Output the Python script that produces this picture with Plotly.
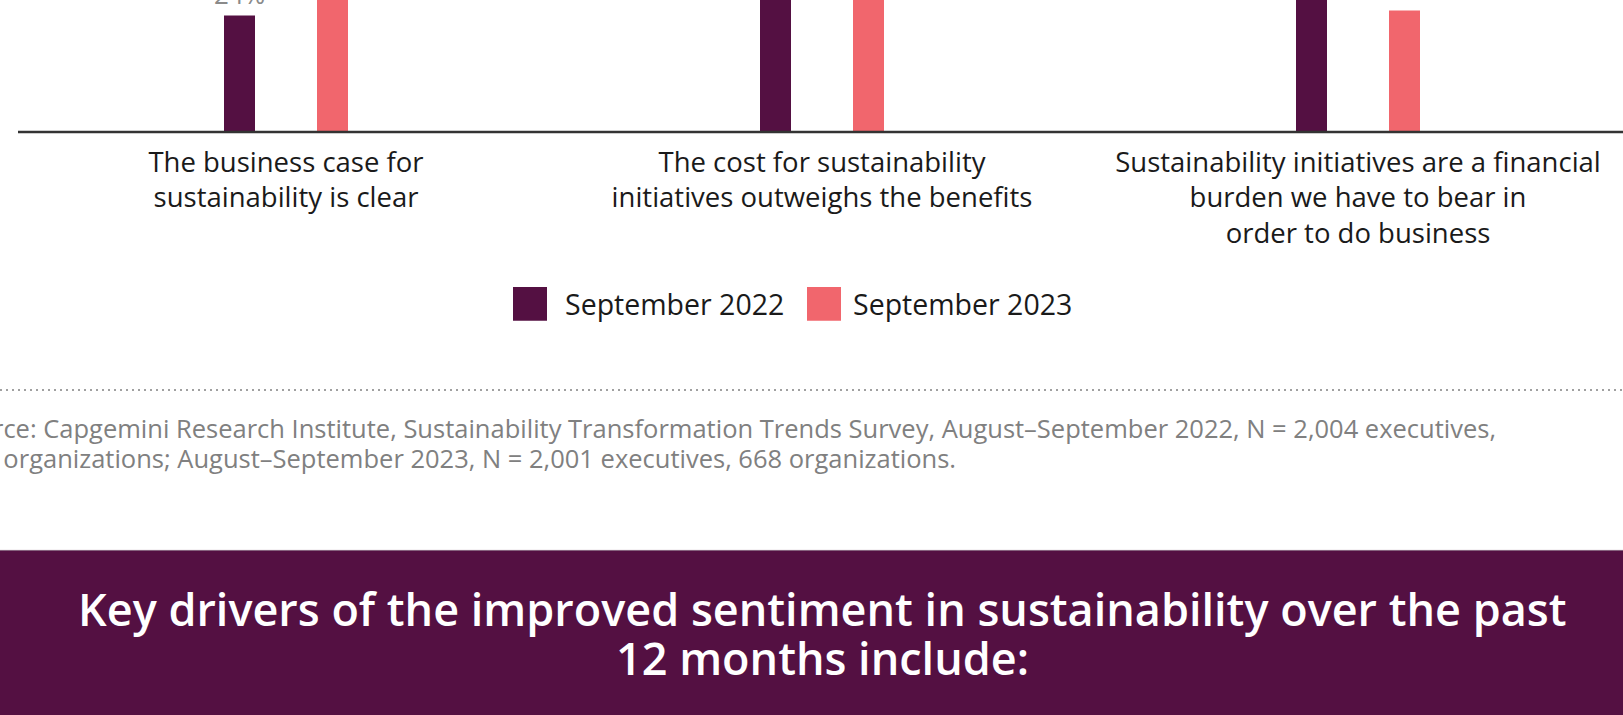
import plotly.graph_objects as go

# ---- data ----
categories = [
    "The business case for<br>sustainability is clear",
    "The cost for sustainability<br>initiatives outweighs the benefits",
    "Sustainability initiatives are a financial<br>burden we have to bear in<br>order to do business",
]
series_names = ["September 2022", "September 2023"]
sep_2022 = [24, 57, 53]
sep_2023 = [38, 41, 25]
colors = ["#541042", "#F1666D"]

source_lines = [
    "Source: Capgemini Research Institute, Sustainability Transformation Trends Survey, "
    "August–September 2022, N = 2,004 executives,",
    "668 organizations; August–September 2023, N = 2,001 executives, 668 organizations.",
]
banner_lines = [
    "Key drivers of the improved sentiment in sustainability over the past",
    "12 months include:",
]

FONT = "Open Sans"

# ---- layout geometry (pixels) ----
W, H = 1623, 715
ML = 18
AXIS_Y = 132.5
PX_PER_UNIT_Y = 4.875
CAT_PX = 536.0
plot_w = W - ML
x_max = -0.5 + plot_w / CAT_PX
bar_w = 31 / CAT_PX
half_gap = 46.5 / CAT_PX


def px(x):
    return (x - ML) / plot_w


def py(y):
    return (AXIS_Y - y) / AXIS_Y


xs = list(range(len(categories)))

fig = go.Figure()
annotations = []
for name, vals, col, sign in [
    (series_names[0], sep_2022, colors[0], -1),
    (series_names[1], sep_2023, colors[1], 1),
]:
    fig.add_trace(go.Bar(
        x=xs, y=vals, name=name, marker=dict(color=col, line=dict(width=0)),
        width=bar_w, offset=sign * half_gap - bar_w / 2,
        cliponaxis=True, showlegend=False, hoverinfo="x+y+name",
    ))
    for i, v in zip(xs, vals):
        annotations.append(dict(xref="x", yref="y", x=i + sign * half_gap, y=v,
                                text=f"{v}%", showarrow=False, xanchor="center",
                                yanchor="bottom", yshift=1,
                                font=dict(family=FONT, size=26, color="#8a8a8a")))

shapes = []

# legend (manual)
leg_items = [(513, 563, series_names[0], colors[0]), (807, 851, series_names[1], colors[1])]
for sx, tx, label, col in leg_items:
    shapes.append(dict(type="rect", xref="paper", yref="paper",
                       x0=px(sx), x1=px(sx + 34), y0=py(288), y1=py(322),
                       fillcolor=col, line=dict(width=0)))
    annotations.append(dict(xref="paper", yref="paper", x=px(tx), y=py(305),
                            text=label, showarrow=False, xanchor="left", yanchor="middle",
                            font=dict(family=FONT, size=28.5, color="#1a1a1a")))

# dotted separator
shapes.append(dict(type="line", xref="paper", yref="paper", x0=px(0), x1=px(W), y0=py(391.5), y1=py(391.5),
                   line=dict(color="#a0a0a0", width=2, dash="2px,4px")))

# source text
for line, yy, x0 in zip(source_lines, [430, 460], [-54, -49]):
    annotations.append(dict(xref="paper", yref="paper", x=px(x0), y=py(yy), text=line,
                            showarrow=False, xanchor="left", yanchor="middle", align="left",
                            font=dict(family=FONT, size=25.5, color="#808080")))

# banner
shapes.append(dict(type="rect", xref="paper", yref="paper", x0=px(0), x1=px(W), y0=py(552), y1=py(H + 5),
                   fillcolor="#541042", line=dict(width=0), layer="below"))
shapes.append(dict(type="line", xref="paper", yref="paper", x0=px(0), x1=px(W), y0=py(552.5), y1=py(552.5),
                   line=dict(color="#8c6c84", width=1)))
for line, yy in zip(banner_lines, [611, 660]):
    annotations.append(dict(xref="paper", yref="paper", x=px(822), y=py(yy), text=line,
                            showarrow=False, xanchor="center", yanchor="middle", align="center",
                            font=dict(family=FONT, size=45, color="white", weight=600)))

shapes.append(dict(type="line", xref="paper", yref="paper", x0=0, x1=1, y0=0, y1=0,
                   line=dict(color="#333333", width=2.5)))

fig.update_layout(
    width=W, height=H,
    margin=dict(l=ML, r=0, t=0, b=H - AXIS_Y, pad=0),
    paper_bgcolor="white", plot_bgcolor="white",
    barmode="overlay",
    xaxis=dict(range=[-0.5, x_max], tickvals=xs, ticktext=categories,
               showgrid=False, zeroline=False, showline=False, ticks="",
               tickfont=dict(family=FONT, size=27.5, color="#1a1a1a"),
               ticklabelstandoff=11, fixedrange=True),
    yaxis=dict(range=[0, AXIS_Y / PX_PER_UNIT_Y], visible=False, fixedrange=True),
    shapes=shapes,
    annotations=annotations,
    showlegend=False,
)

fig.write_html("out.html", config={"displayModeBar": False},
               post_script="document.body.style.margin='0';document.body.style.overflow='hidden';")
